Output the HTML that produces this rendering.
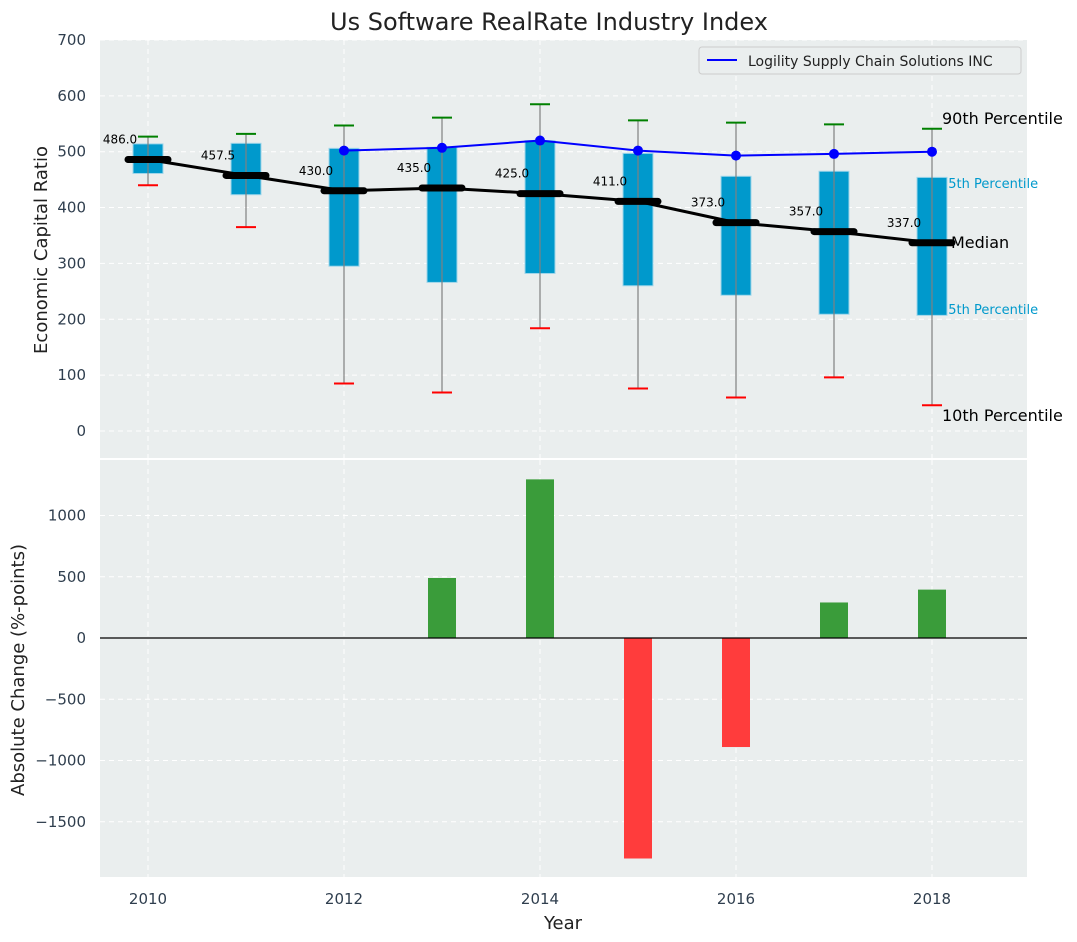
<!DOCTYPE html>
<html><head><meta charset="utf-8"><style>
body{margin:0;background:#fff;}
svg{display:block;font-family:"DejaVu Sans","Liberation Sans",sans-serif;}
</style></head><body>
<svg id="chart" width="1077" height="942" viewBox="0 0 1077 942" xmlns="http://www.w3.org/2000/svg">
<text x="549" y="30" font-size="24" text-anchor="middle" fill="#222">Us Software RealRate Industry Index</text>
<rect x="100" y="40" width="927" height="418" fill="#eaeeee"/>
<rect x="100" y="460" width="927" height="417" fill="#eaeeee"/>
<g id="g"></g>
<text transform="translate(47,250) rotate(-90)" font-size="18" text-anchor="middle" fill="#222">Economic Capital Ratio</text>
<text transform="translate(24,670) rotate(-90)" font-size="18" text-anchor="middle" fill="#222">Absolute Change (%-points)</text>
<text x="563" y="929" font-size="18" text-anchor="middle" fill="#222">Year</text>
<g>
<rect x="699" y="47" width="322" height="27" rx="3" fill="#eaeeee" stroke="#ccc"/>
<line x1="707" y1="60" x2="737" y2="60" stroke="#0000ff" stroke-width="2"/>
<text x="748" y="66" font-size="14" fill="#222">Logility Supply Chain Solutions INC</text>
</g>
</svg>
<script>
const years=[2010,2011,2012,2013,2014,2015,2016,2017,2018];
const p10=[440,365,85,69,184,76,60,96,46];
const q1=[461,423,295,266,282,260,243,209,207];
const med=[486,457.5,430,435,425,411,373,357,337];
const q3=[514,515,506,508,520,497,456,465,454];
const p90=[527,532,547,561,585,556,552,549,541];
const compYears=[2012,2013,2014,2015,2016,2017,2018];
const compVals=[502,507,520,502,493,496,500];
const chgYears=[2013,2014,2015,2016,2017,2018];
const chgVals=[490,1295,-1800,-890,290,395];
const topTicks=[0,100,200,300,400,500,600,700];
const botTicks=[-1500,-1000,-500,0,500,1000];
const xTicks=[2010,2012,2014,2016,2018];

const X=v=>148+(v-2010)*98;
const Y1=v=>431-v*0.5586;
const Y2=v=>638-v*0.1225;
const g=document.getElementById('g');
const NS='http://www.w3.org/2000/svg';
function el(t,a,txt){const e=document.createElementNS(NS,t);for(const k in a)e.setAttribute(k,a[k]);if(txt!==undefined)e.textContent=txt;g.appendChild(e);return e;}

topTicks.forEach(v=>{
 const l=el('line',{x1:100,x2:1027,y1:Y1(v),y2:Y1(v),stroke:'#fff','stroke-dasharray':'5,4','stroke-width':1});
 
 
 const t=el('text',{x:86,y:Y1(v)+5,'font-size':15,'text-anchor':'end',fill:'#2f3e4e'},v);
 
 
});
botTicks.forEach(v=>{
 const l=el('line',{x1:100,x2:1027,y1:Y2(v),y2:Y2(v),stroke:'#fff','stroke-dasharray':'5,4','stroke-width':1});
 
 
 const t=el('text',{x:86,y:Y2(v)+5,'font-size':15,'text-anchor':'end',fill:'#2f3e4e'},String(v).replace('-','\u2212'));
 
 
});
xTicks.forEach(v=>{
 [[40,458],[460,877]].forEach(r=>{
  const l=el('line',{x1:X(v),x2:X(v),y1:r[0],y2:r[1],stroke:'#fff','stroke-dasharray':'5,4'});
  
  
 });
 const t=el('text',{x:X(v),y:904,'font-size':15,'text-anchor':'middle',fill:'#2f3e4e'},v);
 
 
});

const ann=[['90th Percentile',942,124,16,'#000'],['75th Percentile',940,188,13,'#0099cc'],['Median',951,248,16,'#000'],['25th Percentile',940,314,13,'#0099cc'],['10th Percentile',942,421,16,'#000']];
ann.forEach(a=>{
 const t=el('text',{x:a[1],y:a[2],'font-size':a[3],fill:a[4]},a[0]);
 
 
});

years.forEach((y,i)=>{
 const b=el('rect',{x:X(y)-15,y:Y1(q3[i]),width:30,height:Y1(q1[i])-Y1(q3[i]),fill:'#0099cc',stroke:'#9fd6ea','stroke-width':1});
 
 
 const w=el('line',{x1:X(y),x2:X(y),y1:Y1(p90[i]),y2:Y1(p10[i]),stroke:'#808080','stroke-width':1.2});
 
 
 const c1=el('line',{x1:X(y)-10,x2:X(y)+10,y1:Y1(p90[i]),y2:Y1(p90[i]),stroke:'#008000','stroke-width':2});
 
 
 const c2=el('line',{x1:X(y)-10,x2:X(y)+10,y1:Y1(p10[i]),y2:Y1(p10[i]),stroke:'#ff0000','stroke-width':2});
 
 
});
const mp=el('polyline',{points:years.map((y,i)=>X(y)+','+Y1(med[i])).join(' '),fill:'none',stroke:'#000','stroke-width':3});


years.forEach((y,i)=>{
 const m=el('line',{x1:X(y)-20,x2:X(y)+20,y1:Y1(med[i]),y2:Y1(med[i]),stroke:'#000','stroke-width':7,'stroke-linecap':'round'});
 
 
 const t=el('text',{x:X(y)-28,y:Y1(med[i])-16,'font-size':12,'text-anchor':'middle',fill:'#000'},med[i].toFixed(1));
 
 
});
const cp=el('polyline',{points:compYears.map((y,i)=>X(y)+','+Y1(compVals[i])).join(' '),fill:'none',stroke:'#0000ff','stroke-width':2});


compYears.forEach((y,i)=>{
 const c=el('circle',{cx:X(y),cy:Y1(compVals[i]),r:5,fill:'#0000ff'});
 
 
});
chgYears.forEach((y,i)=>{
 const v=chgVals[i];
 const b=el('rect',{x:X(y)-14,y:Math.min(Y2(v),Y2(0)),width:28,height:Math.abs(Y2(v)-Y2(0)),fill:v>=0?'#3a9c3a':'#ff3c3c'});
 
 
});
const z=el('line',{x1:100,x2:1027,y1:Y2(0),y2:Y2(0),stroke:'#000','stroke-width':1.2});


</script>
</body></html>
